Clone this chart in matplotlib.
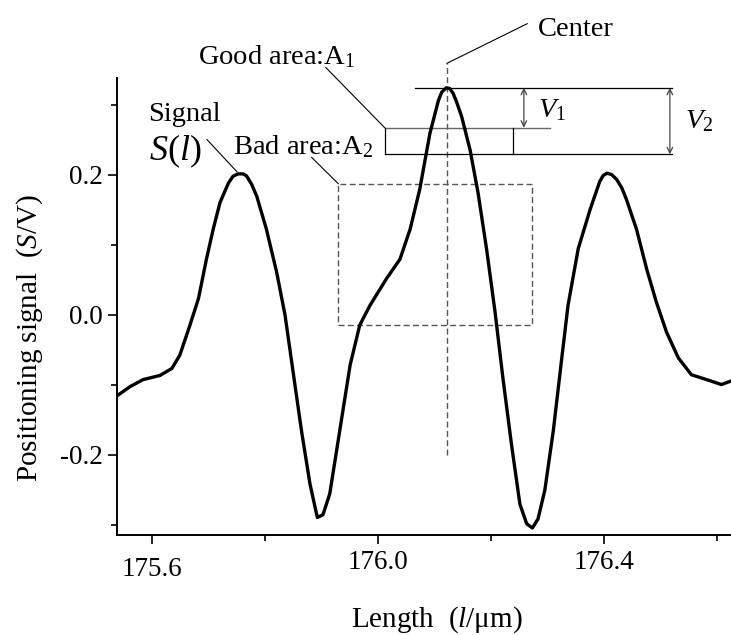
import numpy as np
import matplotlib
matplotlib.use("Agg")
import matplotlib.pyplot as plt
import matplotlib.transforms as mtransforms
from matplotlib.ticker import MultipleLocator, FormatStrFormatter
from matplotlib.patches import Rectangle

plt.rcParams['font.family'] = ['Liberation Serif', 'DejaVu Serif']
plt.rcParams['mathtext.fontset'] = 'custom'
plt.rcParams['mathtext.rm'] = 'Liberation Serif'
plt.rcParams['mathtext.it'] = 'Liberation Serif:italic'
plt.rcParams['axes.unicode_minus'] = False

# positioning signal S(l) along the scale
length_um = [175.541, 175.562, 175.585, 175.615, 175.636, 175.650, 175.668, 175.683,
             175.697, 175.709, 175.721, 175.736, 175.744, 175.753, 175.762, 175.768,
             175.777, 175.786, 175.803,
             175.821, 175.836, 175.850, 175.865, 175.880, 175.893, 175.903, 175.915,
             175.933, 175.951, 175.968, 175.986, 176.015, 176.039, 176.057, 176.074,
             176.092, 176.107, 176.113, 176.121, 176.127, 176.133, 176.139, 176.148,
             176.163, 176.177, 176.192,
             176.207, 176.221, 176.236, 176.251, 176.263, 176.273, 176.283, 176.295,
             176.310, 176.325, 176.336, 176.354, 176.375, 176.392, 176.398, 176.405,
             176.413, 176.422, 176.431,
             176.439, 176.457, 176.475, 176.492, 176.510, 176.531, 176.554, 176.581,
             176.607, 176.624]
signal = [-0.115, -0.103, -0.093, -0.087, -0.077, -0.058, -0.015, 0.023,
          0.079, 0.122, 0.160, 0.188, 0.1976, 0.201, 0.201, 0.198,
          0.186, 0.169, 0.122,
          0.061, -0.001, -0.081, -0.166, -0.242, -0.290, -0.286, -0.256,
          -0.164, -0.072, -0.015, 0.013, 0.051, 0.079, 0.122, 0.179,
          0.259, 0.306, 0.318, 0.324, 0.323, 0.316, 0.304, 0.283,
          0.235, 0.174, 0.094,
          0.004, -0.091, -0.185, -0.271, -0.299, -0.305, -0.292, -0.251,
          -0.166, -0.062, 0.013, 0.094, 0.150, 0.190, 0.1986, 0.202,
          0.200, 0.193, 0.181,
          0.165, 0.122, 0.065, 0.018, -0.025, -0.062, -0.086, -0.093,
          -0.100, -0.095]

x_ticks = [175.6, 176.0, 176.4]
y_ticks = [-0.2, 0.0, 0.2]

# evaluation areas
center_x = 176.122
peak_level = 0.324
good_area = (176.012, 176.239, 0.229, 0.267)    # x0, x1, y0, y1
bad_area = (175.930, 176.272, -0.015, 0.187)

TXT = 20.5

fig = plt.figure(figsize=(7.31, 6.35), dpi=100)
ax = fig.add_axes([0.16005, 0.15748, 0.83995, 0.71969])

ax.plot(length_um, signal, color='black', lw=2.4, solid_joinstyle='round', zorder=3)

ax.set_xlim(175.539, 176.624)
ax.set_ylim(-0.315, 0.338)

ax.spines['top'].set_visible(False)
ax.spines['right'].set_visible(False)
for s in ['left', 'bottom']:
    ax.spines[s].set_linewidth(1.4)

ax.set_xticks(x_ticks)
ax.xaxis.set_minor_locator(MultipleLocator(0.2))
ax.set_yticks(y_ticks)
ax.yaxis.set_minor_locator(MultipleLocator(0.1))
ax.xaxis.set_major_formatter(FormatStrFormatter('%.1f'))
ax.yaxis.set_major_formatter(FormatStrFormatter('%.1f'))
ax.tick_params(which='major', direction='out', length=6.5, width=1.2, labelsize=19.5)
ax.tick_params(axis='x', which='major', pad=4.5)
ax.tick_params(axis='y', which='major', pad=4)
ax.tick_params(which='minor', direction='out', length=4, width=1.2)

# first x label sits a little lower
fig.canvas.draw()
lbl0 = ax.get_xticklabels()[0]
lbl0.set_transform(lbl0.get_transform() +
                   mtransforms.ScaledTranslation(0, -7 / 100, fig.dpi_scale_trans))

ax.set_xlabel(r'Length  ($l$/μm)', fontsize=21, va='baseline')
ax.set_ylabel(r'Positioning signal  ($S$/V)', fontsize=21, va='baseline')
ax.xaxis.set_label_coords(0.521, -0.2013)
ax.yaxis.set_label_coords(-0.1308, 0.431)

# center line with label
ax.plot([center_x, center_x], [-0.2, 0.359], ls=(0, (4.3, 2.4)), color='#555555', lw=1.0,
        clip_on=False, zorder=2)
ax.plot([center_x, 176.264], [0.359, 0.4156], color='black', lw=0.8, clip_on=False)
ax.text(176.283, 0.3986, 'Center', fontsize=TXT, va='baseline', ha='left')

# good area box and level lines
gx0, gx1, gy0, gy1 = good_area
ax.plot([176.065, 176.519], [peak_level, peak_level], color='black', lw=0.9, clip_on=False)
ax.plot([gx0, 176.304], [gy1, gy1], color='#666666', lw=1.0)
ax.plot([gx0, 176.519], [gy0, gy0], color='black', lw=0.9)
ax.plot([gx0, gx0], [gy0, gy1], color='black', lw=0.9)
ax.plot([gx1, gx1], [gy0, gy1], color='black', lw=0.9)
ax.plot([175.908, gx0], [0.353, gy1], color='black', lw=0.8, clip_on=False)
ax.text(175.682, 0.3574, r'Good area:A$\mathregular{_1}$', fontsize=TXT, va='baseline', ha='left')

# bad area box
bx0, bx1, by0, by1 = bad_area
ax.add_patch(Rectangle((bx0, by0), bx1 - bx0, by1 - by0, fill=False,
                       ls=(0, (4.3, 2.4)), ec='#555555', lw=1.0))
ax.plot([175.883, bx0], [0.2245, by1], color='black', lw=0.8)
ax.text(175.744, 0.2298, r'Bad area:A$\mathregular{_2}$', fontsize=TXT, va='baseline', ha='left')

# signal label
ax.text(175.594, 0.2766, 'Signal', fontsize=TXT, va='baseline', ha='left')
ax.text(175.595, 0.221, r'$S(l)$', fontsize=26, va='baseline', ha='left')
ax.plot([175.698, 175.751], [0.250, 0.204], color='black', lw=0.8)

# V1 and V2 spans
ax.annotate('', xy=(176.258, gy1), xytext=(176.258, peak_level),
            arrowprops=dict(arrowstyle='<->', lw=0.9, color='#444444',
                            shrinkA=0, shrinkB=0, mutation_scale=10))
ax.annotate('', xy=(176.516, gy0), xytext=(176.516, peak_level),
            arrowprops=dict(arrowstyle='<->', lw=0.9, color='#444444',
                            shrinkA=0, shrinkB=0, mutation_scale=10))
ax.text(176.283, 0.282, r'$V_1$', fontsize=TXT, va='baseline', ha='left')
ax.text(176.542, 0.2667, r'$V_2$', fontsize=TXT, va='baseline', ha='left')

fig.savefig('out.png', dpi=100)
